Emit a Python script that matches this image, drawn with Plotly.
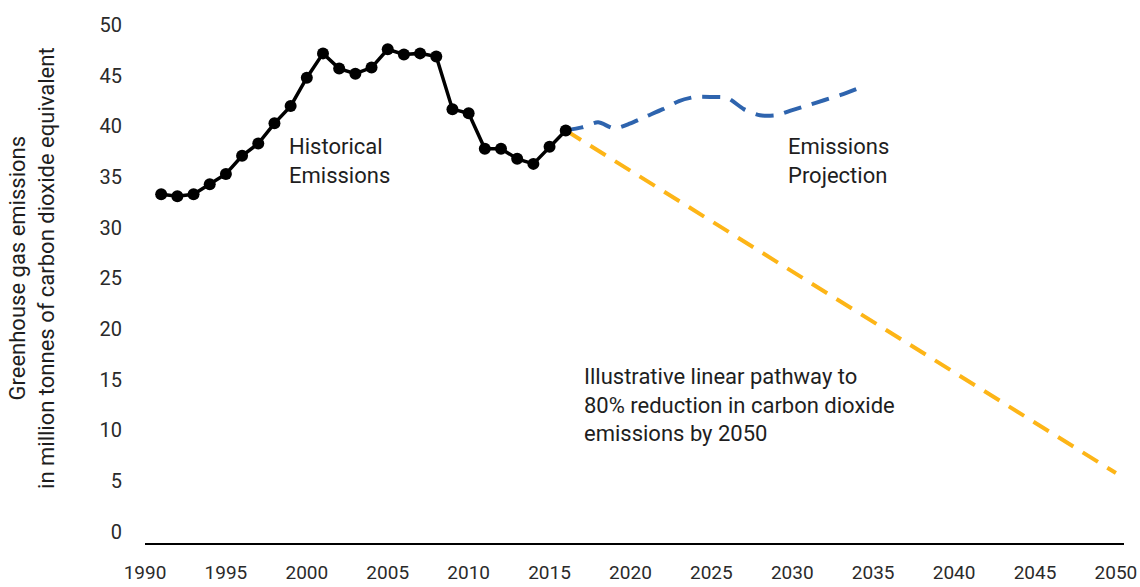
import plotly.graph_objects as go

# Historical emissions (million tonnes CO2e)
hist_years = list(range(1991, 2017))
hist_values = [33.3, 33.1, 33.3, 34.3, 35.3, 37.1, 38.3, 40.3, 42.0, 44.8,
               47.2, 45.7, 45.2, 45.8, 47.6, 47.1, 47.2, 46.9, 41.7, 41.3,
               37.8, 37.8, 36.8, 36.3, 38.0, 39.6]

# Emissions projection
proj_years = list(range(2016, 2035))
proj_values = [39.6, 39.9, 40.4, 39.8, 40.3, 41.0, 41.7, 42.5, 42.9, 42.9,
               42.8, 41.7, 41.1, 41.1, 41.6, 42.1, 42.6, 43.1, 43.7]

# Illustrative linear pathway
path_years = [2016, 2050]
path_values = [39.6, 5.8]

x_ticks = list(range(1990, 2051, 5))
y_ticks = list(range(0, 51, 5))

FONT = "Roboto"
TXT = "#1e1e1e"

fig = go.Figure()
fig.add_trace(go.Scatter(
    x=path_years, y=path_values, mode="lines",
    line=dict(color="#FDB517", width=4, dash="18px,11px"),
    hoverinfo="skip", showlegend=False))
fig.add_trace(go.Scatter(
    x=proj_years, y=proj_values, mode="lines",
    line=dict(color="#2E64AE", width=4, dash="18px,11px", shape="spline", smoothing=0.7),
    hoverinfo="skip", showlegend=False))
fig.add_trace(go.Scatter(
    x=hist_years, y=hist_values, mode="lines+markers",
    line=dict(color="#000000", width=3.5),
    marker=dict(color="#000000", size=12),
    showlegend=False))

fig.update_layout(
    width=1140, height=587,
    margin=dict(l=145, r=15.5, t=25, b=44, pad=0),
    paper_bgcolor="white", plot_bgcolor="white",
    font=dict(family=FONT, size=20, color=TXT),
    xaxis=dict(range=[1990, 2050.5], tickvals=x_ticks, showgrid=False, zeroline=False,
               showline=True, linecolor="#000000", linewidth=1.5, ticks="",
               automargin=False, ticklabelstandoff=11,
               tickfont=dict(size=19, color="#2a2a2a")),
    yaxis=dict(range=[-1.1, 50], tickvals=y_ticks, showgrid=False, zeroline=False,
               showline=False, ticks="", automargin=False, ticklabelstandoff=22,
               tickfont=dict(size=20, color="#2a2a2a")),
)

annos = [
    dict(x=1998.77, y=36.63, text="Historical<br>Emissions"),
    dict(x=2029.6, y=36.63, text="Emissions<br>Projection"),
    dict(x=2017.03, y=12.51, text="Illustrative linear pathway to<br>80% reduction in carbon dioxide<br>emissions by 2050"),
]
for a in annos:
    fig.add_annotation(x=a["x"], y=a["y"], xref="x", yref="y", text=a["text"],
                       showarrow=False, xanchor="left", yanchor="middle", align="left",
                       font=dict(family=FONT, size=22, color=TXT))

fig.add_annotation(x=-0.1154, y=0.531, xref="paper", yref="paper",
                   text="Greenhouse gas emissions<br>in million tonnes of carbon dioxide equivalent",
                   textangle=-90, showarrow=False, xanchor="center", yanchor="middle",
                   font=dict(family=FONT, size=22, color=TXT))

fig.write_html("out.html", config={"displayModeBar": False},
               post_script="document.body.style.margin='0';")
